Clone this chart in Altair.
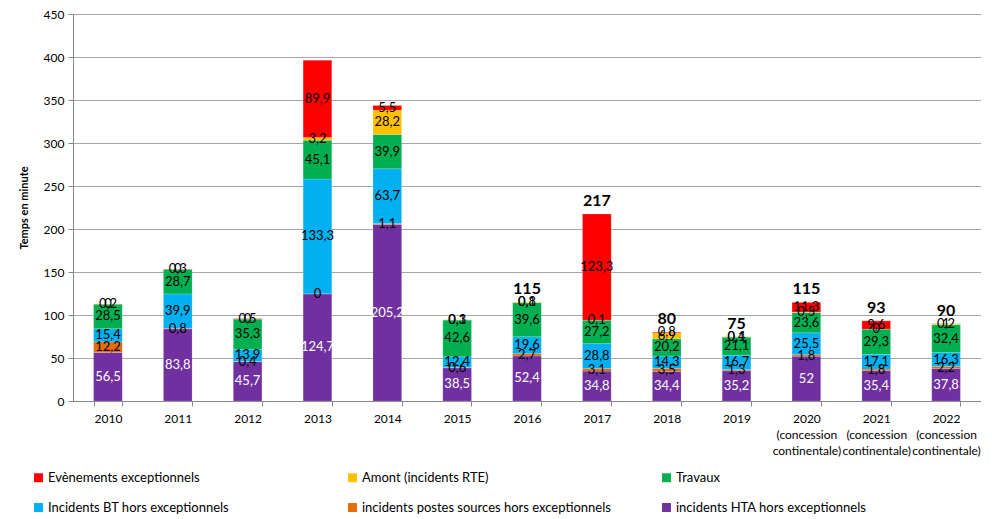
import altair as alt
import pandas as pd

years = ["2010", "2011", "2012", "2013", "2014", "2015", "2016", "2017", "2018", "2019",
         "2020|(concession|continentale)", "2021|(concession|continentale)", "2022|(concession|continentale)"]

series_names = ["incidents HTA hors exceptionnels",
                "incidents postes sources hors exceptionnels",
                "Incidents BT hors exceptionnels",
                "Travaux",
                "Amont (incidents RTE)",
                "Evènements exceptionnels"]
colors = ["#7030A0", "#E46C0A", "#00B0F0", "#00B050", "#FFC000", "#FF0000"]

hta = [56.5, 83.8, 45.7, 124.7, 205.2, 38.5, 52.4, 34.8, 34.4, 35.2, 52, 35.4, 37.8]
postes = [12.2, 0.8, 0.4, 0, 1.1, 0.6, 2.7, 3.1, 3.5, 1.3, 1.8, 1.8, 2.2]
bt = [15.4, 39.9, 13.9, 133.3, 63.7, 12.4, 19.6, 28.8, 14.3, 16.7, 25.5, 17.1, 16.3]
travaux = [28.5, 28.7, 35.3, 45.1, 39.9, 42.6, 39.6, 27.2, 20.2, 21.1, 23.6, 29.3, 32.4]
amont = [0, 0, 0, 3.2, 28.2, 0.3, 0.8, 0.1, 6.9, 0.4, 0.5, 0, 1]
evt = [0.2, 0.3, 0.5, 89.9, 5.5, 0.1, 0.1, 123.3, 0.8, 0.1, 11.3, 9.6, 0.2]

total_years = years[6:]

rows = []
for si, (name, vals) in enumerate(zip(series_names, [hta, postes, bt, travaux, amont, evt])):
    for yr, v in zip(years, vals):
        rows.append({"year": yr, "serie": name, "value": v, "order": si})
df = pd.DataFrame(rows)

FONT = "Lato"
# legend is filled column by column: (Evt, BT), (Amont, postes), (Travaux, HTA)
legend_idx = [5, 2, 4, 1, 3, 0]
color_scale = alt.Scale(domain=[series_names[i] for i in legend_idx],
                        range=[colors[i] for i in legend_idx])

x_enc = alt.X(
    "year:N", sort=years,
    scale=alt.Scale(paddingInner=0.59, paddingOuter=0.295),
    axis=alt.Axis(title=None, labelAngle=0, labelExpr="split(datum.label, '|')",
                  tickBand="extent", labelFontSize=12, labelLineHeight=16,
                  labelColor="#000000", domainColor="#868686", tickColor="#868686",
                  tickSize=5, labelPadding=7, grid=False, labelFont=FONT),
)

y_scale = alt.Scale(domain=[0, 450])

bars = alt.Chart(df).mark_bar(stroke="#ffffff", strokeWidth=0.4, strokeOpacity=0.4).encode(
    x=x_enc,
    y=alt.Y("value:Q", stack="zero", scale=y_scale,
            axis=alt.Axis(title="Temps en minute", values=list(range(0, 451, 50)),
                          titleFontSize=11, titleFontWeight="bold", titleFont=FONT,
                          titleColor="#000000", titlePadding=14,
                          labelFontSize=12, labelFont=FONT, labelColor="#000000",
                          gridColor="#A6A6A6", domainColor="#868686", tickColor="#868686",
                          tickSize=5, labelPadding=4)),
    color=alt.Color("serie:N", scale=color_scale,
                    legend=alt.Legend(title=None, orient="none", legendX=-41, legendY=457,
                                      columns=3, gridAlign="all", columnPadding=49,
                                      rowPadding=16, symbolType="square", symbolSize=80,
                                      symbolStrokeWidth=0, labelOffset=3,
                                      labelFontSize=13, labelFont=FONT,
                                      labelColor="#000000", labelLimit=400)),
    order=alt.Order("order:Q", sort="ascending"),
)

labels = alt.Chart(df).transform_stack(
    stack="value", groupby=["year"], sort=[alt.SortField("order", "ascending")], as_=["y0", "y1"]
).transform_calculate(
    mid="(datum.y0 + datum.y1) / 2",
    label="replace(toString(datum.value), '.', ',')",
).mark_text(font=FONT, fontSize=13).encode(
    x=alt.X("year:N", sort=years),
    y=alt.Y("mid:Q", scale=y_scale),
    text="label:N",
    color=alt.condition(alt.datum.serie == series_names[0], alt.value("white"), alt.value("black")),
)

totals = alt.Chart(df).transform_aggregate(
    total="sum(value)", groupby=["year"]
).transform_filter(
    alt.FieldOneOfPredicate(field="year", oneOf=total_years)
).transform_calculate(
    tlabel="format(datum.total, '.0f')"
).mark_text(font=FONT, fontSize=16, fontWeight="bold", baseline="bottom", dy=-5, color="black").encode(
    x=alt.X("year:N", sort=years),
    y=alt.Y("total:Q", scale=y_scale),
    text="tlabel:N",
)

chart = alt.layer(bars, labels, totals).properties(
    width=908, height=387, padding={"left": 10, "top": 0, "right": 0, "bottom": 0}
).configure_view(stroke=None)

chart.save("out.html", embed_options={"renderer": "svg", "actions": False})
